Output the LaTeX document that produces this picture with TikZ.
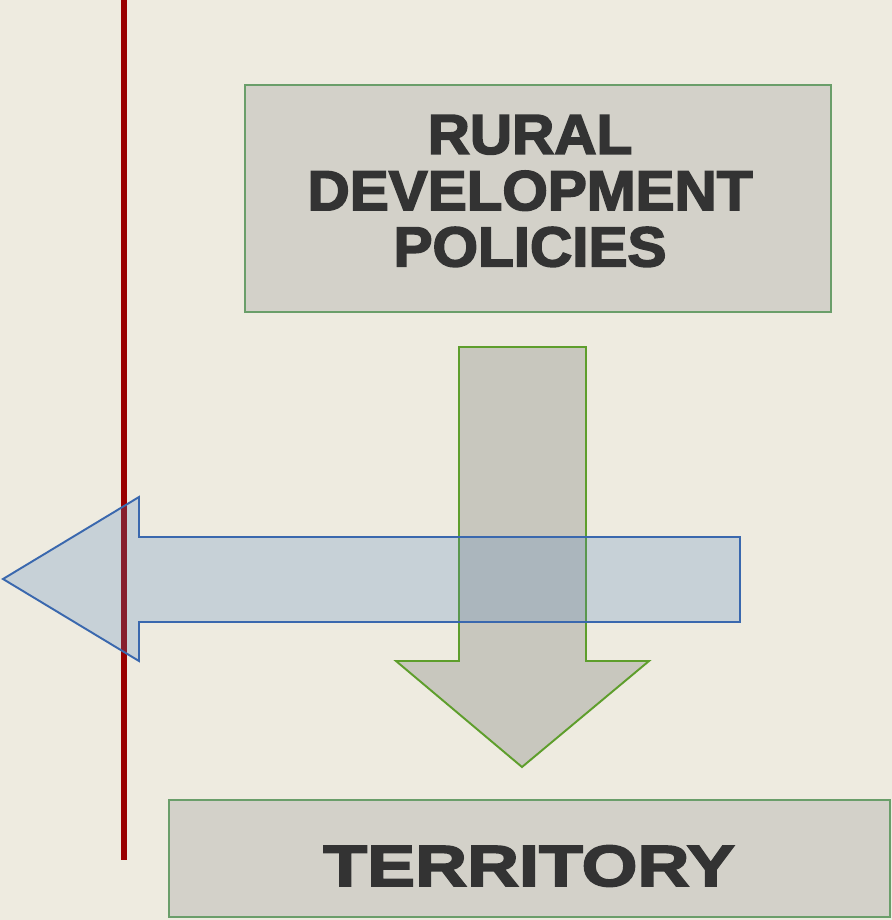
\documentclass[tikz,border=0pt]{standalone}
\usepackage{fontspec}
\usepackage{tikz}
\usetikzlibrary{calc,positioning}
\newfontfamily\heavyfont{Liberation Sans}[BoldFeatures={FakeBold=3,FakeStretch=1.04}]
\newfontfamily\wideheavyfont{Liberation Sans}[BoldFeatures={FakeBold=3,FakeStretch=1.24}]
\definecolor{bgcream}{HTML}{EEEBE0}
\definecolor{boxgrey}{HTML}{D3D1C9}
\definecolor{boxgreen}{HTML}{6A9E6A}
\definecolor{arrowgrey}{HTML}{C8C7BE}
\definecolor{arrowgreen}{HTML}{5E9E2C}
\definecolor{arrowblue}{HTML}{4F81BD}
\definecolor{lineblue}{HTML}{3A68AE}
\definecolor{darkred}{HTML}{990000}
\definecolor{textgrey}{HTML}{333333}

\begin{document}
\begin{tikzpicture}[x=0.02cm,y=-0.02cm]

\tikzset{greybox/.style={fill=boxgrey,draw=boxgreen,line width=1.1pt,inner sep=0pt,shape=rectangle},
boxtext/.style={font=\heavyfont\bfseries\fontsize{32}{32}\selectfont,text=textgrey,align=center,inner sep=0pt},
downarrow/.style={fill=arrowgrey,draw=arrowgreen,line width=1.1pt,line join=miter},
leftarrow/.style={fill=arrowblue,fill opacity=0.24,draw=lineblue,draw opacity=1,line width=1.1pt,line join=miter}}

% Background
\fill[bgcream] (0,0) rectangle (892,920);
\useasboundingbox (0,0) rectangle (892,920);

% Red line
\coordinate (r1) at (124,0);
\coordinate (r2) at (124,860);
\draw[darkred,line width=3.4pt] (r1) -- (r2);

% Boxes
\node[greybox,minimum width=11.72cm,minimum height=4.54cm] (policies) at (538,198.5) {};
\node[boxtext] (ptext) at (530,191) {RURAL\\DEVELOPMENT\\POLICIES};
\node[greybox,minimum width=14.42cm,minimum height=2.34cm] (territory) at (529.5,858.5) {};
\node[boxtext,font=\wideheavyfont\bfseries\fontsize{33}{33}\selectfont] (ttext) at (529,866) {TERRITORY};

% Down arrow
\coordinate (d1) at (459,347);
\coordinate (d2) at (586,347);
\coordinate (d3) at (586,661);
\coordinate (d4) at (649,661);
\coordinate (d5) at (522,767);
\coordinate (d6) at (396,661);
\coordinate (d7) at (459,661);
\draw[downarrow] (d1) -- (d2) -- (d3) -- (d4) -- (d5) -- (d6) -- (d7) -- cycle;

% Left arrow
\coordinate (l1) at (740,537);
\coordinate (l2) at (740,622);
\coordinate (l3) at (139,622);
\coordinate (l4) at (139,661);
\coordinate (l5) at (3,579);
\coordinate (l6) at (139,497);
\coordinate (l7) at (139,537);
\draw[leftarrow] (l1) -- (l2) -- (l3) -- (l4) -- (l5) -- (l6) -- (l7) -- cycle;

\end{tikzpicture}
\end{document}
